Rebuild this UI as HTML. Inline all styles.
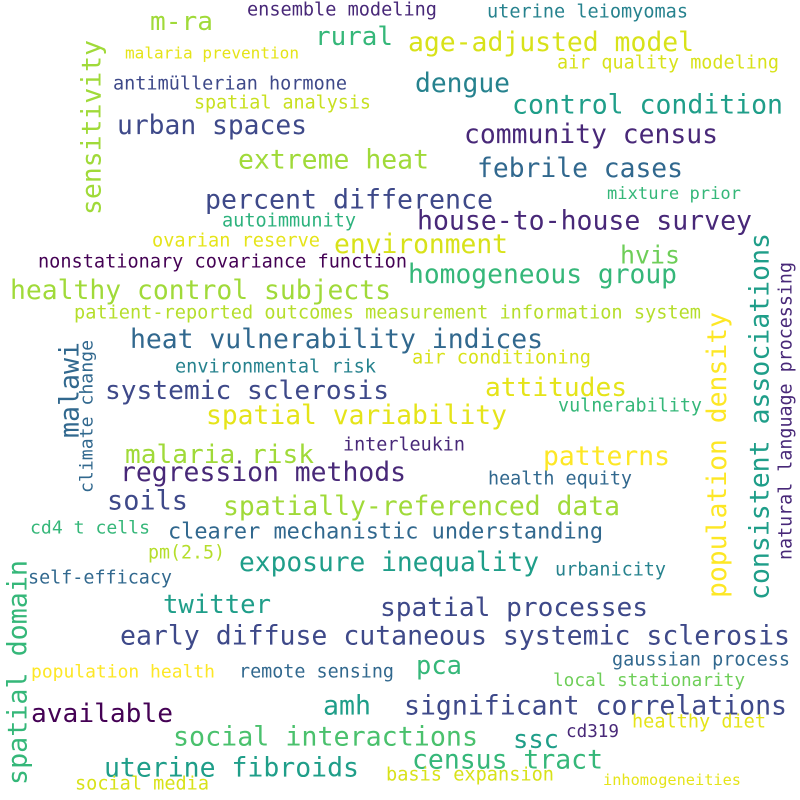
<!DOCTYPE html>
<html>
<head>
<meta charset="utf-8">
<style>
  html,body{margin:0;padding:0;background:#fff;}
  svg{display:block;}
  text{font-family:"DejaVu Sans Mono","Liberation Mono",monospace;}
</style>
</head>
<body>
<svg id="cloud" width="800" height="800" viewBox="0 0 800 800">
  <rect width="800" height="800" fill="#ffffff"/>
</svg>
<script>
const words = ["ensemble modeling","uterine leiomyomas","m-ra","rural","age-adjusted model","malaria prevention","air quality modeling","antimüllerian hormone","dengue","spatial analysis","control condition","urban spaces","community census","extreme heat","febrile cases","mixture prior","percent difference","autoimmunity","house-to-house survey","ovarian reserve","environment","hvis","nonstationary covariance function","homogeneous group","healthy control subjects","patient-reported outcomes measurement information system","heat vulnerability indices","environmental risk","air conditioning","systemic sclerosis","attitudes","vulnerability","spatial variability","interleukin","malaria risk","patterns","regression methods","health equity","soils","spatially-referenced data","cd4 t cells","clearer mechanistic understanding","pm(2.5)","exposure inequality","self-efficacy","urbanicity","twitter","spatial processes","early diffuse cutaneous systemic sclerosis","pca","population health","remote sensing","gaussian process","local stationarity","available","amh","significant correlations","healthy diet","social interactions","ssc","cd319","census tract","uterine fibroids","basis expansion","inhomogeneities","social media"];
const wx1 = [247,487,150,315,408,125,557,113,415,194,512,117,464,238,477,607,205,222,417,152,334,620,38,408,10,74,130,175,412,105,485,558,206,343,125,543,120,488,107,223,30,168,148,239,28,555,163,380,120,416,31,239,612,553,31,323,404,632,173,513,566,412,104,386,603,75];
const wx2 = [437,688,213,393,694,299,779,347,510,371,783,307,718,429,683,741,493,356,752,320,508,680,407,677,391,701,543,376,591,389,627,702,507,465,314,670,406,632,188,620,150,603,225,539,172,666,271,648,790,462,215,394,790,745,173,371,787,766,478,559,619,603,359,554,741,209];
const wy = [10,12,22,37,43,53,63,84,84,103,105,126,135,160,169,194,200,221,221,241,245,255,262,275,291,313,340,367,358,391,388,406,416,445,455,457,473,479,501,507,528,532,553,563,578,570,605,608,636,666,672,672,660,681,714,706,706,722,737,740,732,760,768,775,780,784];
const wcolor = ["#482878","#26828e","#a0da39","#35b779","#d8e219","#e5e419","#d8e219","#3e4989","#26828e","#c8e020","#1f9e89","#3e4989","#482878","#a0da39","#31688e","#35b779","#3e4989","#2db27d","#482878","#e5e419","#d8e219","#6ece58","#440154","#35b779","#a0da39","#b5de2b","#31688e","#26828e","#d8e219","#3e4989","#e5e419","#35b779","#e5e419","#482878","#a0da39","#fde725","#482878","#31688e","#3e4989","#a0da39","#35b779","#31688e","#b5de2b","#1f9e89","#31688e","#26828e","#1f9e89","#3e4989","#3e4989","#35b779","#fde725","#31688e","#31688e","#6ece58","#440154","#1f9e89","#3e4989","#e5e419","#4ac16d","#1f9e89","#482878","#35b779","#1f9e89","#d8e219","#e5e419","#d8e219"];

const vwords = ["sensitivity","malawi","climate change","spatial domain","population density","consistent associations","natural language processing"];
const vx = [92,70,87,18,718,760,786];
const vy1 = [40,342,340,560,312,233,262];
const vy2 = [215,438,493,785,598,600,560];
const vcolor = ["#a0da39","#31688e","#31688e","#35b779","#fde725","#1f9e89","#482878"];

const NS = "http://www.w3.org/2000/svg";
const svg = document.getElementById("cloud");
function slug(s){return s.toLowerCase().replace(/[^a-z0-9]+/g,"-").replace(/^-|-$/g,"");}
function sizeFor(str, len){return len / (str.length * 0.602);}

for (let i = 0; i < words.length; i++) {
  const t = document.createElementNS(NS, "text");
  const len = wx2[i] - wx1[i];
  t.setAttribute("x", wx1[i]);
  t.setAttribute("y", wy[i]);
  t.setAttribute("dominant-baseline", "central");
  t.setAttribute("font-size", sizeFor(words[i], len).toFixed(2));
  t.setAttribute("fill", wcolor[i]);
  t.setAttribute("textLength", len);
  t.setAttribute("lengthAdjust", "spacingAndGlyphs");
  t.textContent = words[i];
  
  
  svg.appendChild(t);
}
for (let i = 0; i < vwords.length; i++) {
  const t = document.createElementNS(NS, "text");
  const cy = (vy1[i] + vy2[i]) / 2;
  const len = vy2[i] - vy1[i];
  t.setAttribute("x", vx[i]);
  t.setAttribute("y", cy);
  t.setAttribute("text-anchor", "middle");
  t.setAttribute("dominant-baseline", "central");
  t.setAttribute("font-size", sizeFor(vwords[i], len).toFixed(2));
  t.setAttribute("fill", vcolor[i]);
  t.setAttribute("textLength", len);
  t.setAttribute("lengthAdjust", "spacingAndGlyphs");
  t.setAttribute("transform", "rotate(-90 " + vx[i] + " " + cy + ")");
  t.textContent = vwords[i];
  
  
  svg.appendChild(t);
}
</script>
</body>
</html>
